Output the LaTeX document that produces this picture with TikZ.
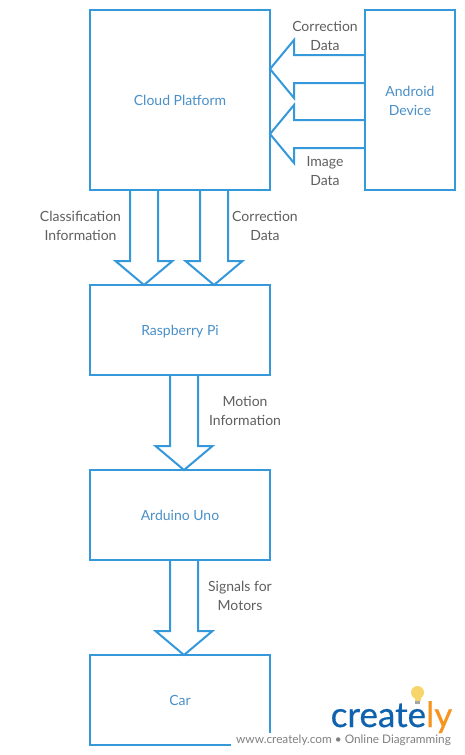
\documentclass[tikz,border=0pt]{standalone}
\usepackage{fontspec}
\setmainfont{Lato}
\usetikzlibrary{calc}
\pgfdeclarelayer{under}
\pgfsetlayers{under,main}
\definecolor{edge}{HTML}{3498DB}
\definecolor{boxtext}{HTML}{4A90C8}
\definecolor{lbl}{HTML}{5F5F5F}
\definecolor{logob}{HTML}{0F62AE}
\definecolor{logoo}{HTML}{F7941E}
\definecolor{bulb}{HTML}{F8D56B}
\newcommand{\st}{\rule[-4pt]{0pt}{19pt}}
\tikzset{
  block/.style={draw=edge,line width=2pt,text=boxtext,font=\fontsize{14}{19}\selectfont,align=center,inner sep=0pt,outer sep=0pt,anchor=north west},
  lbl/.style={text=lbl,font=\fontsize{14}{19}\selectfont,align=center,inner sep=0pt},
  flow/.style={draw=edge,line width=2pt,fill=white,line join=miter,miter limit=10}
}
% down arrow: centre x, source node, target node
\newcommand{\downflow}[3]{%
  \coordinate (s) at (#2.south -| #1,0);
  \coordinate (t) at (#3.north -| #1,0);
  \draw[flow] ($(s)+(-14,0)$) -- ($(t)+(-14,-24)$) -- ($(t)+(-28.5,-24)$) -- (t) -- ($(t)+(28.5,-24)$) -- ($(t)+(14,-24)$) -- ($(s)+(14,0)$);}
% left arrow: centre y, source node, target node
\newcommand{\leftflow}[3]{%
  \coordinate (s) at (#2.west |- 0,#1);
  \coordinate (t) at (#3.east |- 0,#1);
  \draw[flow] ($(s)+(0,-14)$) -- ($(t)+(24,-14)$) -- ($(t)+(24,-29)$) -- (t) -- ($(t)+(24,29)$) -- ($(t)+(24,14)$) -- ($(s)+(0,14)$);}
\begin{document}
\begin{tikzpicture}[x=1pt,y=-1pt]
\useasboundingbox (0,0) rectangle (465,755);
\begin{pgfonlayer}{under}
\fill[white] (0,0) rectangle (465,755);
\end{pgfonlayer}
\node[block,minimum width=180pt,minimum height=180pt] (cloud) at (90,10) {\st Cloud Platform};
\node[block,minimum width=90pt,minimum height=180pt] (android) at (365,10) {\st Android\\\st Device};
\node[block,minimum width=180pt,minimum height=90pt] (pi) at (90,285) {\st Raspberry Pi};
\node[block,minimum width=180pt,minimum height=90pt] (uno) at (90,470) {\st Arduino Uno};
\node[block,minimum width=180pt,minimum height=90pt] (car) at (90,655) {\st Car};
\begin{pgfonlayer}{under}
\leftflow{69}{android}{cloud}
\leftflow{134}{android}{cloud}
\downflow{144}{cloud}{pi}
\downflow{214}{cloud}{pi}
\downflow{184}{pi}{uno}
\downflow{184}{uno}{car}
\end{pgfonlayer}
\node[lbl] (l1) at (325,35.5) {\st Correction\\\st Data};
\node[lbl] (l2) at (325,170.5) {\st Image\\\st Data};
\node[lbl] (l3) at (80.5,225.5) {\st Classification\\\st Information};
\node[lbl] (l4) at (265,225.5) {\st Correction\\\st Data};
\node[lbl] (l5) at (245,410.5) {\st Motion\\\st Information};
\node[lbl] (l6) at (240,595.5) {\st Signals for\\\st Motors};
% watermark
\fill[white] (231,733) rectangle (465,755);
\fill[white] (272,680) rectangle (465,733);
\fill[bulb] (417.5,692.5) circle (6.5pt);
\fill[bulb] (414.5,696) rectangle (420.5,701);
\fill[gray!70] (415,701) rectangle (420,704);
\node[anchor=base west,inner sep=0pt,font=\fontsize{35}{35}\selectfont\addfontfeature{FakeBold=0.5}] (logo) at (330.5,727) {\textcolor{logob}{create}\textcolor{logoo}{ly}};
\node[anchor=base west,inner sep=0pt,text=gray,font=\fontsize{11.8}{13}\selectfont] (web) at (236,743.5) {www.creately.com • Online Diagramming};
\end{tikzpicture}
\end{document}
